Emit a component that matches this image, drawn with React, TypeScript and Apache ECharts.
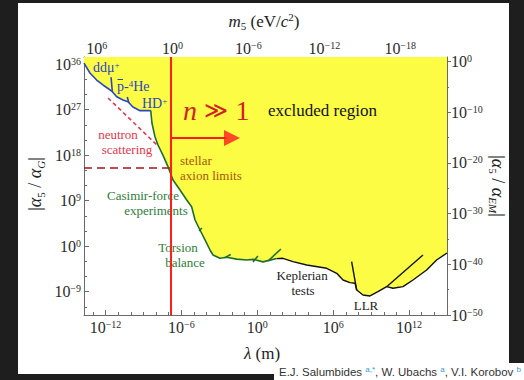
import React, { useEffect, useRef } from "react";
import * as echarts from "echarts";

// ---- axis ranges (log10 units) ----
const lambdaMin = -13.7;
const lambdaMax = 15;
const leftMin = -13.6;
const leftMax = 37.4;
const rightMin = -50;
const rightMax = 0.9;
const massOffset = -6.7; // log10(hbar*c / 1 m) in eV
const massMin = massOffset - lambdaMax;
const massMax = massOffset - lambdaMin;

// ---- tick values ----
const lambdaMajor = [-12, -6, 0, 6, 12];
const lambdaMinor = [-13, -11, -10, -9, -8, -7, -5, -4, -3, -2, -1, 1, 2, 3, 4, 5, 7, 8, 9, 10, 11, 13, 14];
const massMajor = [6, 0, -6, -12, -18];
const massMinor = [5, 4, 3, 2, 1, -1, -2, -3, -4, -5, -7, -8, -9, -10, -11, -13, -14, -15, -16, -17, -19, -20, -21];
const leftMajor = [-9, 0, 9, 18, 27, 36];
const leftMinor = [-12, -6, -3, 3, 6, 12, 15, 21, 24, 30, 33];
const rightMajor = [-50, -40, -30, -20, -10, 0];
const rightMinor = [-45, -35, -25, -15, -5];

// ---- curves: [log10 lambda (m), log10 |alpha5/alphaG|] ----
const blueCurve = [
  [-13.7, 36.2], [-13.23, 34.24], [-12.7, 32.85], [-12.2, 31.87], [-11.8, 31.17],
  [-11.46, 30.54], [-11.11, 29.55], [-10.62, 28.9], [-10.22, 28.56], [-9.83, 27.52],
  [-9.27, 26.79], [-8.42, 26.79],
];
const blueSpikes = [
  [[-11.56, 33.4], [-11.46, 30.54]],
  [[-10.28, 29.5], [-10.15, 28.3]],
];
const greenCurve = [
  [-8.42, 26.79], [-8.33, 24.35], [-8.09, 21.65], [-7.85, 20.0], [-7.46, 18.0],
  [-7.06, 15.72], [-6.66, 13.09], [-6.11, 11.11], [-5.58, 9.14], [-5.19, 7.81],
  [-4.92, 5.18], [-4.53, 3.2], [-4.13, 1.23], [-3.74, -0.75], [-3.5, -1.74],
  [-2.95, -2.39], [-2.42, -2.2], [-1.63, -2.55], [-0.84, -2.73], [-0.3, -2.6],
  [0.45, -3.1], [1.0, -2.75], [1.53, -2.45],
];
const greenHooks = [
  [[-4.6, 3.0], [-4.38, 3.6]],
  [[-2.6, -2.3], [-2.1, -1.65]],
  [[-0.34, -3.1], [0.05, -1.94]],
  [[0.85, -2.92], [1.87, -0.55]],
];
const blackCurve = [
  [1.53, -2.45], [2.03, -2.39], [2.82, -3.06], [3.91, -3.72], [5.49, -4.37],
  [6.28, -5.36], [6.78, -6.68], [7.33, -7.21], [7.73, -7.33], [7.86, -8.66],
  [8.36, -9.65], [8.91, -9.84], [9.54, -9.0], [10.23, -8.0], [10.73, -8.32],
  [11.52, -8.0], [12.31, -6.68], [13.39, -4.7], [14.18, -2.73], [15.0, -1.34],
];
const blackSpikes = [
  [[7.46, -3.06], [7.86, -8.66]],
  [[10.23, -8.0], [13.1, -1.74]],
];
const neutronLine = [[-11.8, 29.3], [-7.93, 20.0]];
const stellarLine = [[-13.7, 15.46], [-6.51, 15.46]];
const nLine = [[-6.82, leftMin], [-6.82, leftMax]];
const arrowShaft = [[-6.82, 21.39], [-2.45, 21.39]];
const arrowHead = [[-2.0, 21.39]];

const serif = '"Liberation Serif", "Times New Roman", serif';
const sans = '"Liberation Sans", Arial, sans-serif';
const axisColor = "#6a6a6a";
const labelColor = "#2b2b2b";

const supText = (v: number) => `{b|10}{s|${v < 0 ? "\u2212" + Math.abs(v) : v}}`;
const labelRich = {
  b: { fontFamily: serif, fontSize: 16, lineHeight: 16, color: labelColor },
  s: { fontFamily: serif, fontSize: 10, lineHeight: 8, verticalAlign: "top", color: labelColor },
};

function majorAxis(pos: string, min: number, max: number, ticks: number[], margin: number, extra: any = {}) {
  return {
    type: "value",
    position: pos,
    min,
    max,
    axisLine: { show: true, onZero: false, lineStyle: { color: axisColor, width: 1 } },
    axisTick: { show: true, inside: true, length: 5, customValues: ticks, lineStyle: { color: axisColor } },
    axisLabel: { show: true, customValues: ticks, margin, formatter: (v: number) => supText(v), rich: labelRich },
    splitLine: { show: false },
    ...extra,
  };
}
function minorAxis(pos: string, min: number, max: number, ticks: number[], extra: any = {}) {
  return {
    type: "value",
    position: pos,
    min,
    max,
    axisLine: { show: false, onZero: false },
    axisTick: { show: true, inside: true, length: 3, customValues: ticks, lineStyle: { color: axisColor } },
    axisLabel: { show: false },
    splitLine: { show: false },
    ...extra,
  };
}

function lineSeries(data: number[][], color: string, width: number, extra: any = {}) {
  return {
    type: "line",
    xAxisIndex: 0,
    yAxisIndex: 0,
    data,
    symbol: "none",
    showSymbol: false,
    silent: true,
    lineStyle: { color, width },
    z: 4,
    ...extra,
  };
}

function txt(text: string, x: number, y: number, color: string, size: number, align = "left", extra: any = {}) {
  return {
    type: "text",
    x,
    y,
    z: 50,
    silent: true,
    style: { text, fill: color, fontFamily: serif, fontSize: size, lineHeight: size, align, verticalAlign: "middle", ...extra },
  };
}

export default function App() {
  const ref = useRef<HTMLDivElement>(null);
  useEffect(() => {
    if (!ref.current) return;
    const chart = echarts.init(ref.current, null, { renderer: "svg" });
    const blue = "#2a45c6";
    const green = "#1f6e2c";
    const fill = [...blueCurve, ...greenCurve.slice(1), ...blackCurve.slice(1)];
    const option: any = {
      animation: false,
      backgroundColor: "transparent",
      grid: { left: 84, top: 57, width: 363, height: 258, containLabel: false, outerBoundsMode: "none" },
      xAxis: [
        majorAxis("bottom", lambdaMin, lambdaMax, lambdaMajor, 4),
        majorAxis("top", massMin, massMax, massMajor, 1, { inverse: true }),
        minorAxis("bottom", lambdaMin, lambdaMax, lambdaMinor),
        minorAxis("top", massMin, massMax, massMinor, { inverse: true }),
      ],
      yAxis: [
        majorAxis("left", leftMin, leftMax, leftMajor, 3),
        majorAxis("right", rightMin, rightMax, rightMajor, 4, {
          axisTick: { show: true, inside: false, length: 4, customValues: rightMajor, lineStyle: { color: axisColor } },
        }),
        minorAxis("left", leftMin, leftMax, leftMinor),
        minorAxis("right", rightMin, rightMax, rightMinor, {
          axisTick: { show: true, inside: false, length: 2, customValues: rightMinor, lineStyle: { color: axisColor } },
        }),
      ],
      series: [
        {
          type: "line",
          xAxisIndex: 0,
          yAxisIndex: 0,
          data: fill,
          symbol: "none",
          showSymbol: false,
          silent: true,
          lineStyle: { width: 0, opacity: 0 },
          areaStyle: { color: "#fcfc45", opacity: 1, origin: "end" },
          z: 1,
        },
        lineSeries(neutronLine, "#e8374c", 1.6, { lineStyle: { color: "#e8374c", width: 1.6, type: [4, 3] } }),
        lineSeries(stellarLine, "#a3141c", 1.6, { lineStyle: { color: "#a3141c", width: 1.6, type: [8, 5] } }),
        lineSeries(blueCurve, blue, 1.6),
        ...blueSpikes.map((s) => lineSeries(s, blue, 1.6)),
        lineSeries(greenCurve, green, 1.6),
        ...greenHooks.map((s) => lineSeries(s, green, 1.6)),
        lineSeries(blackCurve, "#111", 1.4),
        ...blackSpikes.map((s) => lineSeries(s, "#111", 1.4)),
        lineSeries(nLine, "#ff1c1c", 2, { z: 60 }),
        lineSeries(arrowShaft, "#ff1c1c", 2, { z: 60 }),
        {
          type: "scatter",
          xAxisIndex: 0,
          yAxisIndex: 0,
          data: arrowHead,
          symbol: "triangle",
          symbolRotate: -90,
          symbolSize: [16, 16],
          itemStyle: { color: "#ff1c1c" },
          silent: true,
          z: 60,
        },
      ],
      graphic: [
        // axis titles
        {
          type: "text", x: 264, y: 21, z: 50, silent: true,
          style: {
            text: "{i|m}{sub|5}{n| (eV/}{i|c}{sup|2}{n|)}",
            align: "center", verticalAlign: "middle", fill: "#222",
            rich: {
              n: { fontFamily: serif, fontSize: 17, lineHeight: 20, fill: "#222" },
              i: { fontFamily: serif, fontSize: 17, lineHeight: 20, fontStyle: "italic", fill: "#222" },
              sub: { fontFamily: serif, fontSize: 11, lineHeight: 12, verticalAlign: "bottom", fill: "#222" },
              sup: { fontFamily: serif, fontSize: 11, lineHeight: 10, verticalAlign: "top", fill: "#222" },
            },
          },
        },
        {
          type: "text", x: 262, y: 353, z: 50, silent: true,
          style: {
            text: "{i|\u03bb}{n| (m)}",
            align: "center", verticalAlign: "middle",
            rich: {
              n: { fontFamily: serif, fontSize: 17, fill: "#222" },
              i: { fontFamily: serif, fontSize: 17, fontStyle: "italic", fill: "#222" },
            },
          },
        },
        {
          type: "text", x: 35, y: 184, rotation: Math.PI / 2, z: 50, silent: true,
          style: {
            text: "{n||}{i|\u03b1}{sub|5}{n| / }{i|\u03b1}{subi|G}{n||}",
            align: "center", verticalAlign: "middle",
            rich: {
              n: { fontFamily: serif, fontSize: 18, lineHeight: 22, fill: "#222" },
              i: { fontFamily: serif, fontSize: 18, lineHeight: 22, fontStyle: "italic", fill: "#222" },
              sub: { fontFamily: serif, fontSize: 11, lineHeight: 14, verticalAlign: "bottom", fill: "#222" },
              subi: { fontFamily: serif, fontSize: 11, lineHeight: 14, verticalAlign: "bottom", fontStyle: "italic", fill: "#222" },
            },
          },
        },
        {
          type: "text", x: 498, y: 186, rotation: -Math.PI / 2, z: 50, silent: true,
          style: {
            text: "{n||}{i|\u03b1}{sub|5}{n| / }{i|\u03b1}{subi|EM}{n||}",
            align: "center", verticalAlign: "middle",
            rich: {
              n: { fontFamily: serif, fontSize: 18, lineHeight: 22, fill: "#222" },
              i: { fontFamily: serif, fontSize: 18, lineHeight: 22, fontStyle: "italic", fill: "#222" },
              sub: { fontFamily: serif, fontSize: 11, lineHeight: 14, verticalAlign: "bottom", fill: "#222" },
              subi: { fontFamily: serif, fontSize: 11, lineHeight: 14, verticalAlign: "bottom", fontStyle: "italic", fill: "#222" },
            },
          },
        },
        // annotations
        {
          type: "text", x: 93, y: 67, z: 50, silent: true,
          style: {
            text: "{t|dd\u03bc}{p|+}", align: "left", verticalAlign: "middle",
            rich: {
              t: { fontFamily: serif, fontSize: 14, lineHeight: 14, fill: blue },
              p: { fontFamily: serif, fontSize: 9, lineHeight: 8, verticalAlign: "top", fill: blue },
            },
          },
        },
        {
          type: "text", x: 117, y: 86, z: 50, silent: true,
          style: {
            text: "{t|p-}{p|4}{t|He}", align: "left", verticalAlign: "middle",
            rich: {
              t: { fontFamily: serif, fontSize: 14, lineHeight: 14, fill: blue },
              p: { fontFamily: serif, fontSize: 9, lineHeight: 8, verticalAlign: "top", fill: blue },
            },
          },
        },
        {
          type: "line", z: 50, silent: true,
          shape: { x1: 117.5, y1: 79.5, x2: 123, y2: 79.5 },
          style: { stroke: blue, lineWidth: 1 },
        },
        {
          type: "text", x: 142, y: 103, z: 50, silent: true,
          style: {
            text: "{t|HD}{p|+}", align: "left", verticalAlign: "middle",
            rich: {
              t: { fontFamily: serif, fontSize: 14, lineHeight: 14, fill: blue },
              p: { fontFamily: serif, fontSize: 9, lineHeight: 8, verticalAlign: "top", fill: blue },
            },
          },
        },
        txt("neutron", 118, 134.75, "#e3384c", 13, "center"),
        txt("scattering", 127, 149.25, "#e3384c", 13, "center"),
        txt("stellar", 180, 160.75, "#a8560e", 13, "left"),
        txt("axion limits", 180, 175.25, "#a8560e", 13, "left"),
        txt("Casimir-force", 143, 195.75, "#2e7d3a", 13, "center"),
        txt("experiments", 156, 210.25, "#2e7d3a", 13, "center"),
        txt("Torsion", 178, 247.5, "#2e7d3a", 13, "center"),
        txt("balance", 185, 262, "#2e7d3a", 13, "center"),
        txt("Keplerian", 302, 275.75, "#222", 13, "center"),
        txt("tests", 303, 290.25, "#222", 13, "center"),
        txt("LLR", 366, 305, "#222", 13, "center"),
        {
          type: "text", x: 183, y: 110, z: 50, silent: true,
          style: {
            text: "{i|n}{o| \u226b }{d|1}", align: "left", verticalAlign: "middle",
            rich: {
              i: { fontFamily: serif, fontSize: 28, fontStyle: "italic", fill: "#d12222" },
              o: { fontFamily: '"DejaVu Serif", serif', fontSize: 23, fill: "#d12222" },
              d: { fontFamily: serif, fontSize: 28, fill: "#d12222" },
            },
          },
        },
        txt("excluded region", 268, 110, "#111", 17, "left"),
        {
          type: "text", x: 279, y: 372, z: 50, silent: true,
          style: {
            text: "{a|E.J. Salumbides }{s|a,*}{a|, W. Ubachs }{s|a}{a|, V.I. Korobov }{s|b}",
            align: "left", verticalAlign: "middle",
            rich: {
              a: { fontFamily: sans, fontSize: 11.5, lineHeight: 14, fill: "#333" },
              s: { fontFamily: sans, fontSize: 8, lineHeight: 8, verticalAlign: "top", fill: "#3a9ad6" },
            },
          },
        },
      ],
    };
    chart.setOption(option);
    return () => chart.dispose();
  }, []);

  return (
    <div style={{ position: "fixed", left: 0, top: 0, width: 524, height: 380, background: "#1e1e1e", overflow: "hidden" }}>
      <div style={{ position: "absolute", left: 18, top: 3, width: 491, height: 371, background: "#fff" }} />
      <div style={{ position: "absolute", left: 274, top: 363, width: 250, height: 17, background: "#fff" }} />
      <div ref={ref} style={{ position: "absolute", left: 0, top: 0, width: 524, height: 380 }} />
    </div>
  );
}
